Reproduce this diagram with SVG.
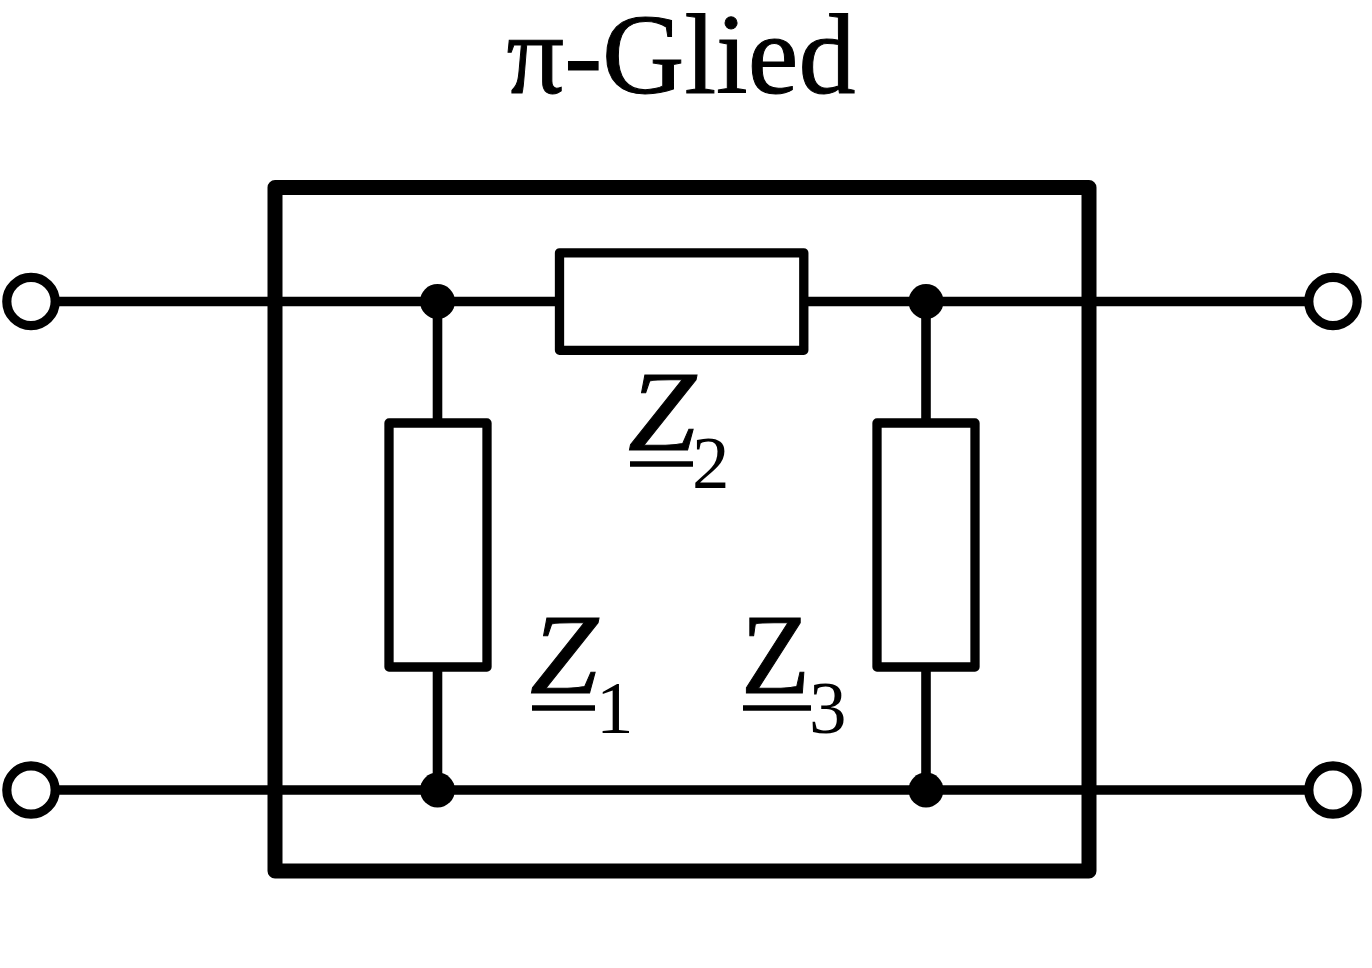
<svg xmlns="http://www.w3.org/2000/svg" width="1372" height="968" viewBox="0 0 1372 968">
<style>
.w{fill:none;stroke:#000;stroke-width:9.6}
.r{fill:#fff;stroke:#000;stroke-width:9.3;stroke-linejoin:round}
.t{fill:#fff;stroke:#000;stroke-width:9.2}
.d{fill:#000}
text{font-family:"Liberation Serif",serif;fill:#000}
.z{font-size:114px;font-style:italic;stroke:#000;stroke-width:1}
.y{font-size:114px;stroke:#000;stroke-width:1}
.s{font-size:75px}
.u{stroke:#000;stroke-width:5.5}
</style>
<rect width="1372" height="968" fill="#fff"/>
<text x="681" y="93" font-size="114" text-anchor="middle" stroke="#000" stroke-width="1">π-Glied</text>
<rect id="frame" x="275" y="187.5" width="814" height="683.5" fill="none" stroke="#000" stroke-width="15" stroke-linejoin="round"/>
<g id="connectors">
<path class="w" d="M58 301.5H558M805 301.5H1306M58 790H1306M437.5 301V423M437.5 666V790M926 301V423M926 666V790"/>
</g>
<g id="Z2"><rect class="r" x="559.5" y="252.8" width="244.3" height="97.5"/><text class="z" x="628" y="450" textLength="68" lengthAdjust="spacingAndGlyphs">Z</text><path class="u" d="M630 464H693"/><text class="s" x="692" y="488">2</text></g>
<g id="Z1"><rect class="r" x="389" y="423" width="98" height="244"/><text class="z" x="530" y="693" textLength="68" lengthAdjust="spacingAndGlyphs">Z</text><path class="u" d="M532 708H595"/><text class="s" x="596" y="733">1</text></g>
<g id="Z3"><rect class="r" x="877" y="423" width="98" height="244"/><text class="y" x="741" y="693" textLength="69" lengthAdjust="spacingAndGlyphs">Z</text><path class="u" d="M743 708H811"/><text class="s" x="809" y="733">3</text></g>
<g id="j1"><circle class="d" cx="437.5" cy="301.5" r="17.5"/></g>
<g id="j2"><circle class="d" cx="926" cy="301.5" r="17.5"/></g>
<g id="j3"><circle class="d" cx="437.5" cy="790" r="17.5"/></g>
<g id="j4"><circle class="d" cx="926" cy="790" r="17.5"/></g>
<g id="t1"><circle class="t" cx="31" cy="301.5" r="24.2"/></g>
<g id="t2"><circle class="t" cx="31" cy="790" r="24.2"/></g>
<g id="t3"><circle class="t" cx="1333" cy="301.5" r="24.2"/></g>
<g id="t4"><circle class="t" cx="1333" cy="790" r="24.2"/></g>
</svg>
